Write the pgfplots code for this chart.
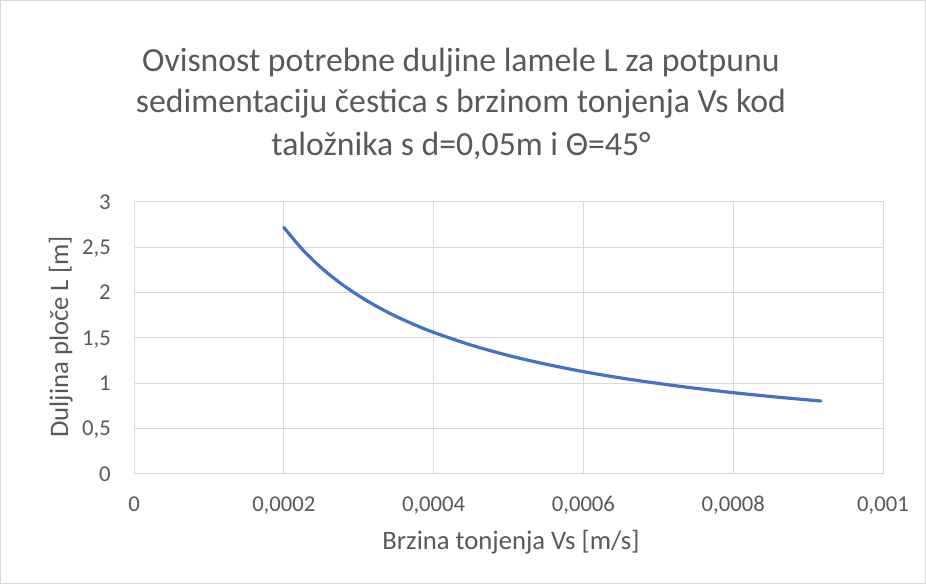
\documentclass[border=0pt]{standalone}
\usepackage{fontspec}
\setmainfont{Carlito}
\usepackage{pgfplots}
\pgfplotsset{compat=1.18}
\definecolor{txt}{HTML}{595959}
\definecolor{gridc}{HTML}{D9D9D9}
\definecolor{xblue}{HTML}{4472C4}
\begin{document}
\begin{tikzpicture}[x=0.75pt,y=0.75pt]
\draw[gridc, line width=0.75pt] (0.5,0.5) rectangle (925.5,583.5);
\begin{axis}[
  at={(100.5pt,82.5pt)}, anchor=south west,
  scale only axis, width=561.75pt, height=204pt,
  xmin=0, xmax=0.001, ymin=0, ymax=3,
  xtick={0,0.0002,0.0004,0.0006,0.0008,0.001},
  xticklabels={{0},{0,0002},{0,0004},{0,0006},{0,0008},{0,001}},
  ytick={0,0.5,1,1.5,2,2.5,3},
  yticklabels={{0},{0,5},{1},{1,5},{2},{2,5},{3}},
  grid=major, major grid style={gridc, line width=0.75pt},
  axis line style={gridc, line width=0.75pt},
  major tick length=0pt,
  scaled x ticks=false,
  xticklabel style={font=\fontsize{17}{20}\selectfont, text=txt, anchor=base, inner sep=0pt, yshift=-28.5pt},
  yticklabel style={font=\fontsize{17}{20}\selectfont, text=txt, anchor=base east, inner sep=0pt, xshift=-17.25pt, yshift=-5.4pt},
  clip=false,
]
\addplot[xblue, line width=2.4pt, smooth, line cap=round] coordinates {
(0.0002,2.720) (0.000225,2.475) (0.00025,2.275) (0.000275,2.108) (0.0003,1.967)
(0.000325,1.844) (0.00035,1.738) (0.000375,1.645)
(0.0004,1.562) (0.00045,1.422) (0.0005,1.307) (0.00055,1.211) (0.0006,1.129)
(0.00065,1.059) (0.0007,0.999) (0.00075,0.945) (0.0008,0.897) (0.00085,0.855)
(0.0009,0.817) (0.000917,0.805)
};
\end{axis}
\node[text=txt, font=\fontsize{25.3}{30}\selectfont] at (461,521) {Ovisnost potrebne duljine lamele L za potpunu};
\node[text=txt, font=\fontsize{25.3}{30}\selectfont] at (461,480) {sedimentaciju čestica s brzinom tonjenja Vs kod};
\node[text=txt, font=\fontsize{25.3}{30}\selectfont] at (461,438) {taložnika s d=0,05m i Θ=45°};
\node[text=txt, font=\fontsize{20}{24}\selectfont, rotate=90, anchor=base, inner sep=0pt] at (68,247) {Duljina ploče L [m]};
\node[text=txt, font=\fontsize{20}{24}\selectfont, anchor=base, inner sep=0pt] at (511,34) {Brzina tonjenja Vs [m/s]};
\end{tikzpicture}
\end{document}
